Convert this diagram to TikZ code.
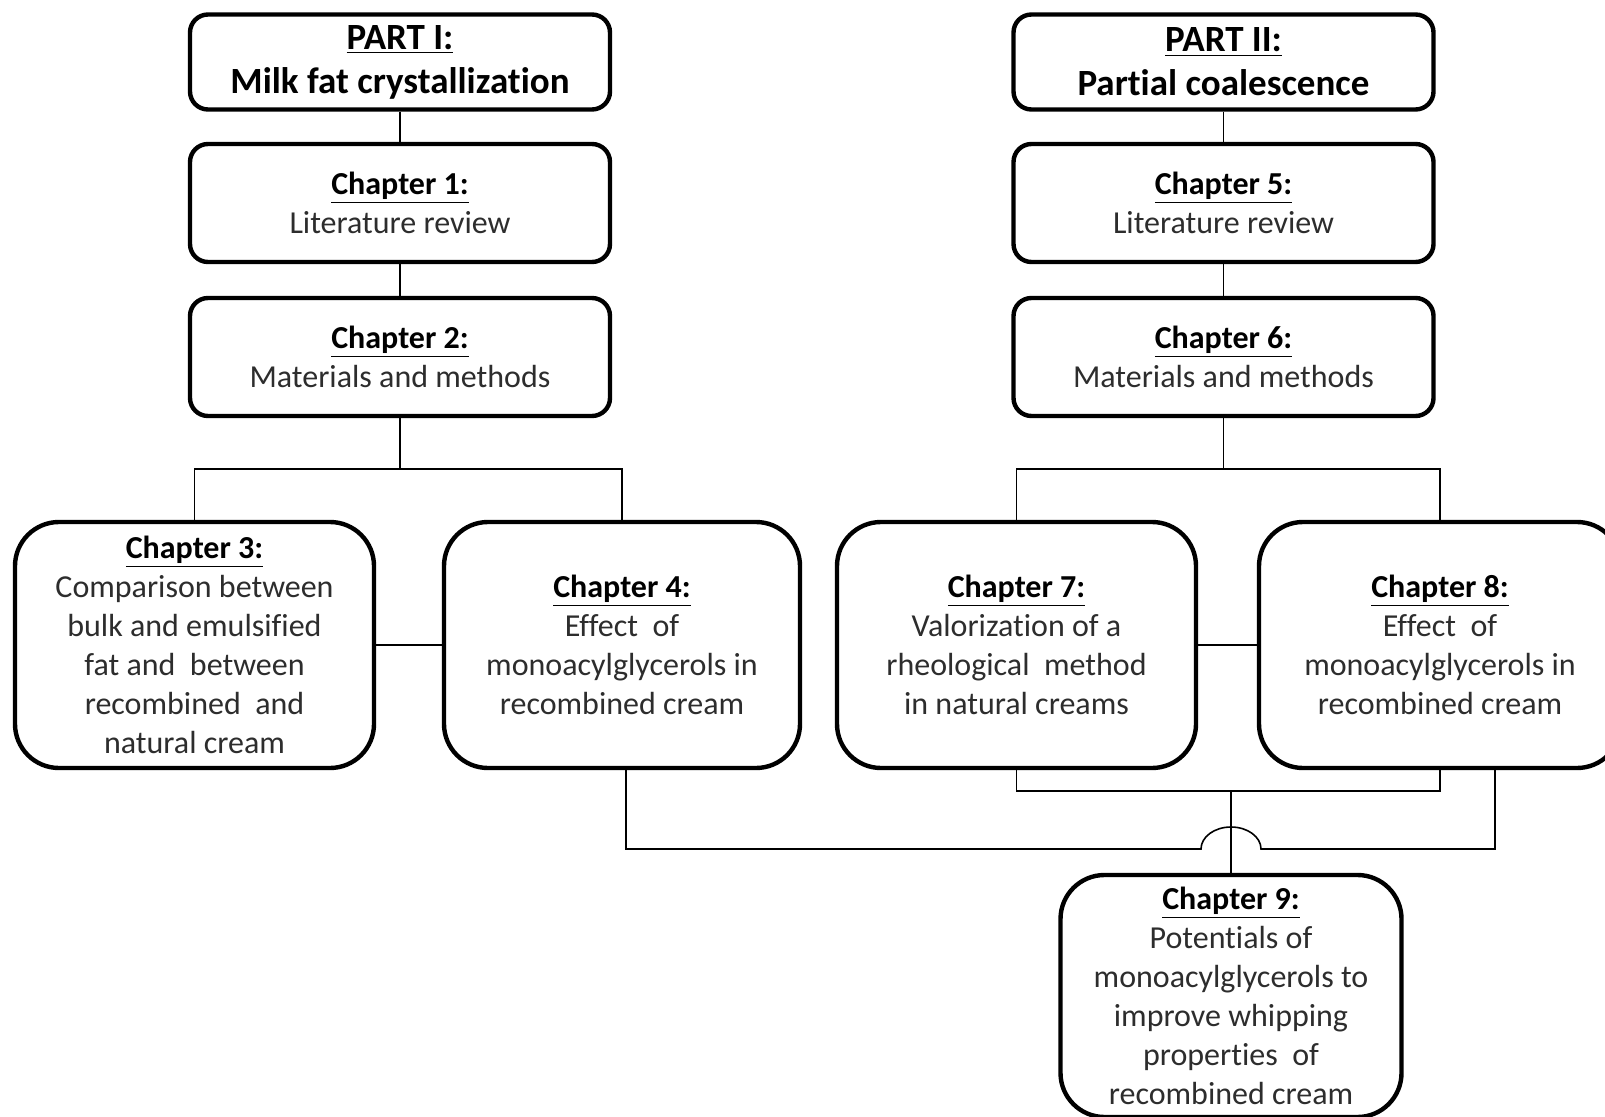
\documentclass[tikz,border=0pt]{standalone}
\usepackage{fontspec}
\setmainfont{Carlito}[Ligatures=NoCommon]
\usepackage{xcolor}
\usepackage{tikz}
\usetikzlibrary{calc}
\definecolor{cTxt}{RGB}{45,45,45}

\tikzset{
  partbox/.style={draw,line width=2.2pt,rounded corners=9pt,minimum width=210pt,minimum height=47.5pt,
    inner sep=0pt,align=center,font=\fontsize{18.5}{22}\selectfont\bfseries},
  chapbox/.style={draw,line width=2.2pt,rounded corners=9pt,minimum width=210pt,minimum height=59pt,
    inner sep=0pt,align=center,text=cTxt,font=\fontsize{16}{19.5}\selectfont},
  bigbox/.style={draw,line width=2.2pt,rounded corners=22pt,minimum width=179.5pt,minimum height=123pt,
    inner sep=0pt,align=center,text=cTxt,font=\fontsize{16}{19.5}\selectfont},
  link/.style={line width=0.8pt}
}
\newcommand{\chead}[1]{\textcolor{black}{\textbf{\underline{#1}}}}

\begin{document}
\begin{tikzpicture}[x=0.5pt,y=-0.5pt]
\clip (0,0) rectangle (1605,1117);
\fill[white] (0,0) rectangle (1605,1117);

\node[partbox] (p1) at (400,62) {\underline{PART I:}\\Milk fat crystallization};
\node[chapbox] (c1) at (400,203) {\chead{Chapter 1:}\\Literature review};
\node[chapbox] (c2) at (400,357) {\chead{Chapter 2:}\\Materials and methods};
\node[bigbox] (c3) at (194.5,645) {\chead{Chapter 3:}\\Comparison between\\bulk and emulsified\\fat and\ \ between\\recombined\ \ and\\natural cream};
\node[bigbox,minimum width=178pt] (c4) at (622,645) {\chead{Chapter 4:}\\Effect\ \ of\\monoacylglycerols in\\recombined cream};

\node[partbox] (p2) at (1223.5,62) {\underline{PART II:}\\Partial coalescence};
\node[chapbox] (c5) at (1223.5,203) {\chead{Chapter 5:}\\Literature review};
\node[chapbox] (c6) at (1223.5,357) {\chead{Chapter 6:}\\Materials and methods};
\node[bigbox] (c7) at (1016.5,645) {\chead{Chapter 7:}\\Valorization of a\\rheological\ \ method\\in natural creams};
\node[bigbox,minimum width=181pt] (c8) at (1440,645) {\chead{Chapter 8:}\\Effect\ \ of\\monoacylglycerols in\\recombined cream};

\node[bigbox,minimum width=170.5pt,minimum height=121pt] (c9) at (1231,996) {\chead{Chapter 9:}\\Potentials of\\monoacylglycerols to\\improve whipping\\properties\ \ of\\recombined cream};

\coordinate (bL) at (400,469);
\coordinate (bR) at (1223.5,469);
\coordinate (jB) at (1231,791);
\coordinate (hop) at (1231,849);

\draw[link] (p1) -- (c1);
\draw[link] (c1) -- (c2);
\draw[link] (c2) -- (bL);
\draw[link] (c3.north) -- (c3.north |- bL) -- (c4.north |- bL) -- (c4.north);
\draw[link] (c3.east) -- (c4.west);

\draw[link] (p2) -- (c5);
\draw[link] (c5) -- (c6);
\draw[link] (c6) -- (bR);
\draw[link] (c7.north) -- (c7.north |- bR) -- (c8.north |- bR) -- (c8.north);
\draw[link] (c7.east) -- (c8.west);

\draw[link] (c7.south) -- (c7.south |- jB) -- (c8.south |- jB) -- (c8.south);
\draw[link] (jB) -- (c9.north);
\draw[link] ([xshift=2pt]c4.south) |- ($(hop)+(-30,0)$)
  arc[start angle=180,end angle=0,x radius=15pt,y radius=11pt]
  -- ($(hop)+(264,0)$) -- ($(c8.south)+(55,0)$);
\end{tikzpicture}
\end{document}
